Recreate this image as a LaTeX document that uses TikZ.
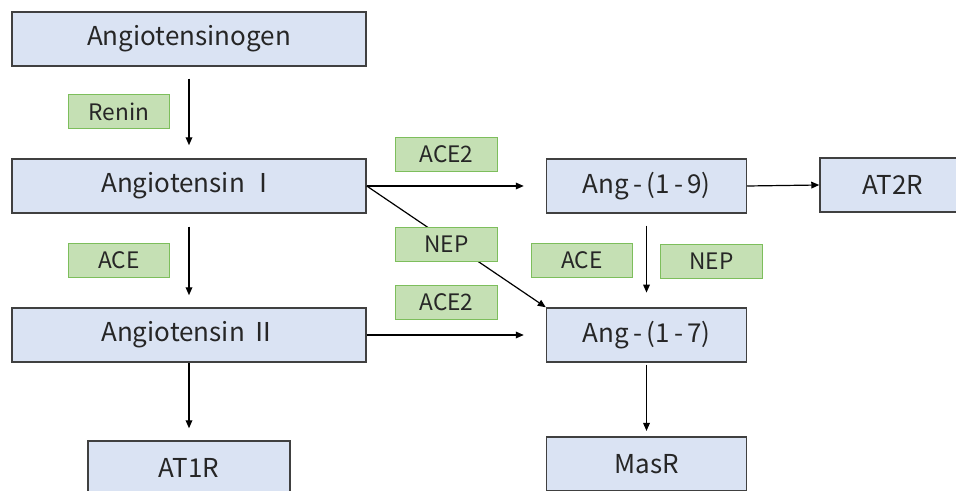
\documentclass[tikz,border=0pt]{standalone}
\usepackage{fontspec}
\setmainfont{Noto Sans CJK SC}
\usetikzlibrary{arrows.meta}
\definecolor{boxfill}{HTML}{DAE3F3}
\definecolor{boxline}{HTML}{404040}
\definecolor{enzfill}{HTML}{C5E0B4}
\definecolor{enzline}{HTML}{7DBE5C}
\definecolor{txt}{HTML}{262626}
\tikzset{
    mol/.style={draw=boxline, fill=boxfill, line width=1.1pt, rectangle, minimum height=40.5pt, text=txt, font=\fontsize{19.5}{22}\selectfont},
    wide/.style={mol, minimum width=265.5pt},
    short/.style={mol, minimum width=150pt},
    enz/.style={draw=enzline, fill=enzfill, line width=0.9pt, rectangle, minimum height=26pt, minimum width=76pt, text=txt, font=\fontsize{17}{20}\selectfont},
    arr/.style={line width=0.9pt, -{Triangle[length=6pt,width=5pt]}}
}

\begin{document}
\begin{tikzpicture}[x=0.75pt,y=-0.75pt]
    \useasboundingbox (0,0) rectangle (956,491);

    \node[wide] (ago) at (189,39) {Angiotensinogen};
    \node[wide] (a1) at (189,186) {Angiotensin Ⅰ};
    \node[wide] (a2) at (189,335) {Angiotensin Ⅱ};
    \node[mol, minimum width=151.5pt] (at1r) at (189,468) {AT1R};
    \node[short] (a19) at (646.5,186) {Ang\,-\,(1\,-\,9)};
    \node[short] (a17) at (646.5,335) {Ang\,-\,(1\,-\,7)};
    \node[short] (masr) at (646.5,464) {MasR};
    \node[mol, minimum width=109.5pt] (at2r) at (893,185) {AT2R};

    \draw[arr, shorten <=9pt, shorten >=9.75pt] (ago) -- (a1);
    \draw[arr, shorten <=9.75pt, shorten >=9pt] (a1) -- (a2);
    \draw[arr, shorten >=9pt] (a2) -- (at1r);
    \draw[arr, shorten >=16.5pt] (a1.east) -- (a19.west);
    \draw[arr] (a1.east) -- (a17.north west);
    \draw[arr, shorten >=16.5pt] (a2.east) -- (a17.west);
    \draw[arr] (a19.east) -- (at2r.west);
    \draw[arr, shorten <=9pt, shorten >=11pt] (a19) -- (a17);
    \draw[arr, shorten <=1.5pt, shorten >=4pt] (a17) -- (masr);

    \node[enz] (renin) at (119,111.5) {Renin};
    \node[enz] (ace) at (119,260.5) {ACE};
    \node[enz] (ace2a) at (446.5,154.5) {ACE2};
    \node[enz] (nepa) at (446.5,244.5) {NEP};
    \node[enz] (ace2b) at (446.5,302.5) {ACE2};
    \node[enz] (aceb) at (582,260.5) {ACE};
    \node[enz] (nepb) at (711.5,261.5) {NEP};
\end{tikzpicture}
\end{document}
